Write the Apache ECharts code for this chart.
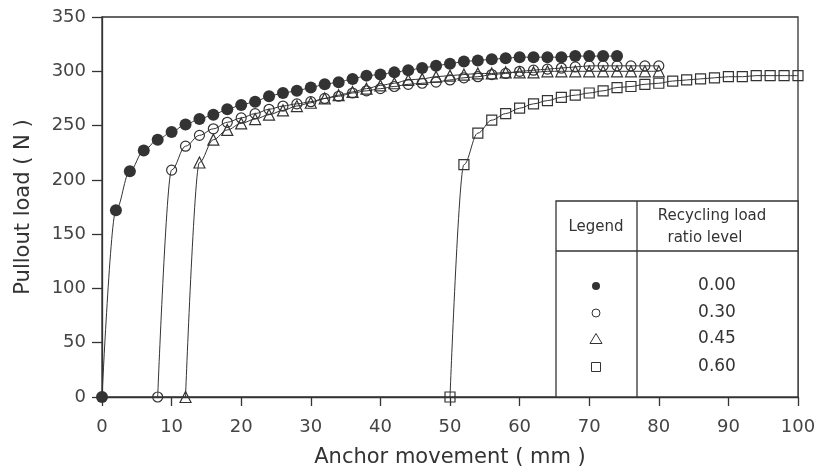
<!DOCTYPE html>
<html>
<head>
<meta charset="utf-8">
<script src="https://cdn.jsdelivr.net/npm/echarts@6/dist/echarts.min.js"></script>
<style>
	html, body { margin: 0; padding: 0; background: #fff; }
	#main { width: 822px; height: 474px; }
</style>
</head>
<body>
<div id="main"></div>
<script>
/*刻度*/
var xTicks = [0, 10, 20, 30, 40, 50, 60, 70, 80, 90, 100];
var yTicks = [0, 50, 100, 150, 200, 250, 300, 350];

/*0.00 实心圆*/
var x000 = [0, 2, 4, 6, 8, 10, 12, 14, 16, 18, 20, 22, 24, 26, 28, 30, 32, 34, 36, 38, 40, 42, 44, 46, 48, 50, 52, 54, 56, 58, 60, 62, 64, 66, 68, 70, 72, 74];
var y000 = [0, 172, 208, 227, 237, 244, 251, 256, 260, 265, 269, 272, 277, 280, 282, 285, 288, 290, 293, 296, 297, 299, 301, 303, 305, 307, 309, 310, 311, 312, 313, 313, 313, 313, 314, 314, 314, 314];

/*0.30 空心圆*/
var x030 = [8, 10, 12, 14, 16, 18, 20, 22, 24, 26, 28, 30, 32, 34, 36, 38, 40, 42, 44, 46, 48, 50, 52, 54, 56, 58, 60, 62, 64, 66, 68, 70, 72, 74, 76, 78, 80];
var y030 = [0, 209, 231, 241, 247, 253, 257, 261, 265, 268, 270, 272, 275, 277, 280, 282, 284, 286, 288, 289, 290, 292, 294, 295, 297, 298, 300, 301, 302, 303, 304, 305, 305, 305, 305, 305, 305];

/*0.45 三角*/
var x045 = [12, 14, 16, 18, 20, 22, 24, 26, 28, 30, 32, 34, 36, 38, 40, 42, 44, 46, 48, 50, 52, 54, 56, 58, 60, 62, 64, 66, 68, 70, 72, 74, 76, 78, 80];
var y045 = [0, 216, 237, 246, 252, 256, 260, 264, 268, 271, 275, 278, 281, 284, 287, 289, 292, 293, 295, 296, 297, 298, 298, 299, 299, 299, 300, 300, 300, 300, 300, 300, 300, 300, 300];

/*0.60 方块*/
var x060 = [50, 52, 54, 56, 58, 60, 62, 64, 66, 68, 70, 72, 74, 76, 78, 80, 82, 84, 86, 88, 90, 92, 94, 96, 98, 100];
var y060 = [0, 214, 243, 255, 261, 266, 270, 273, 276, 278, 280, 282, 285, 286, 288, 289, 291, 292, 293, 294, 295, 295, 296, 296, 296, 296];

var legendLabels = ['0.00', '0.30', '0.45', '0.60'];

function zip(xs, ys) {
	var arr = [];
	for (var i = 0; i < xs.length; i++) {
		arr.push([xs[i], ys[i]]);
	}
	return arr;
}

var ink = '#333';
var font = 'DejaVu Sans';

function makeSeries(name, xs, ys, symbol, size, filled) {
	return {
		name: name,
		type: 'line',
		data: zip(xs, ys),
		smooth: 0.35,
		smoothMonotone: 'x',
		symbol: symbol,
		symbolSize: size,
		showAllSymbol: true,
		lineStyle: { color: ink, width: 1 },
		itemStyle: {
			color: filled ? ink : 'rgba(255,255,255,0)',
			borderColor: ink,
			borderWidth: filled ? 0 : 1.2
		},
		emphasis: { disabled: true },
		animation: false
	};
}

/*图例表格*/
var tl = 556, tr = 798, tt = 201, tb = 397, tv = 637, th = 251;
var rowsY = [286, 313, 339, 367];
var symX = 596;
var graphics = [
	{ type: 'rect', shape: { x: tl, y: tt, width: tr - tl, height: tb - tt }, style: { fill: '#fff', stroke: ink, lineWidth: 1.3 }, z: 10 },
	{ type: 'line', shape: { x1: tv, y1: tt, x2: tv, y2: tb }, style: { stroke: ink, lineWidth: 1.3 }, z: 11 },
	{ type: 'line', shape: { x1: tl, y1: th, x2: tr, y2: th }, style: { stroke: ink, lineWidth: 1.3 }, z: 11 },
	{ type: 'text', x: 596, y: 227, style: { text: 'Legend', font: '15px ' + font, fill: ink, align: 'center', verticalAlign: 'middle' }, z: 11 },
	{ type: 'text', x: 712, y: 216, style: { text: 'Recycling load', font: '15px ' + font, fill: ink, align: 'center', verticalAlign: 'middle' }, z: 11 },
	{ type: 'text', x: 705, y: 238, style: { text: 'ratio level', font: '15px ' + font, fill: ink, align: 'center', verticalAlign: 'middle' }, z: 11 },
	{ type: 'circle', shape: { cx: symX, cy: rowsY[0], r: 4 }, style: { fill: ink }, z: 11 },
	{ type: 'circle', shape: { cx: symX, cy: rowsY[1], r: 4 }, style: { fill: 'none', stroke: ink, lineWidth: 1 }, z: 11 },
	{ type: 'polygon', shape: { points: [[symX, rowsY[2] - 5.5], [symX - 6, rowsY[2] + 4.5], [symX + 6, rowsY[2] + 4.5]] }, style: { fill: 'none', stroke: ink, lineWidth: 1 }, z: 11 },
	{ type: 'rect', shape: { x: symX - 4.5, y: rowsY[3] - 4.5, width: 9, height: 9 }, style: { fill: 'none', stroke: ink, lineWidth: 1 }, z: 11 }
];
for (var i = 0; i < legendLabels.length; i++) {
	graphics.push({ type: 'text', x: 717, y: rowsY[i], style: { text: legendLabels[i], font: '17px ' + font, fill: ink, align: 'center', verticalAlign: 'middle' }, z: 11 });
}

var chart = echarts.init(document.getElementById('main'));
var option = {
	backgroundColor: '#fff',
	animation: false,
	grid: {
		left: 102, right: 24, top: 17, bottom: 77,
		show: true, borderColor: ink, borderWidth: 1.3, backgroundColor: 'transparent'
	},
	xAxis: {
		type: 'value',
		min: xTicks[0], max: xTicks[xTicks.length - 1], interval: 10,
		name: 'Anchor movement ( mm )',
		nameLocation: 'middle',
		nameGap: 50,
		nameTextStyle: { fontFamily: font, fontSize: 21, color: ink },
		axisLine: { show: true, lineStyle: { color: ink, width: 1.3 } },
		axisTick: { show: true, length: 9, inside: false, lineStyle: { color: ink, width: 1.3 } },
		axisLabel: { fontFamily: font, fontSize: 18, color: '#444', margin: 21 },
		splitLine: { show: false }
	},
	yAxis: {
		type: 'value',
		min: yTicks[0], max: yTicks[yTicks.length - 1], interval: 50,
		name: 'Pullout load ( N )',
		nameLocation: 'middle',
		nameGap: 68,
		nameTextStyle: { fontFamily: font, fontSize: 21, color: ink },
		axisLine: { show: true, lineStyle: { color: ink, width: 1.3 } },
		axisTick: { show: true, length: 10, inside: false, lineStyle: { color: ink, width: 1.3 } },
		axisLabel: { fontFamily: font, fontSize: 18, color: '#444', margin: 16 },
		splitLine: { show: false }
	},
	series: [
		makeSeries('0.00', x000, y000, 'circle', 12, true),
		makeSeries('0.30', x030, y030, 'circle', 10, false),
		makeSeries('0.45', x045, y045, 'triangle', 11, false),
		makeSeries('0.60', x060, y060, 'rect', 10, false)
	],
	graphic: graphics
};
chart.setOption(option);
</script>
</body>
</html>
